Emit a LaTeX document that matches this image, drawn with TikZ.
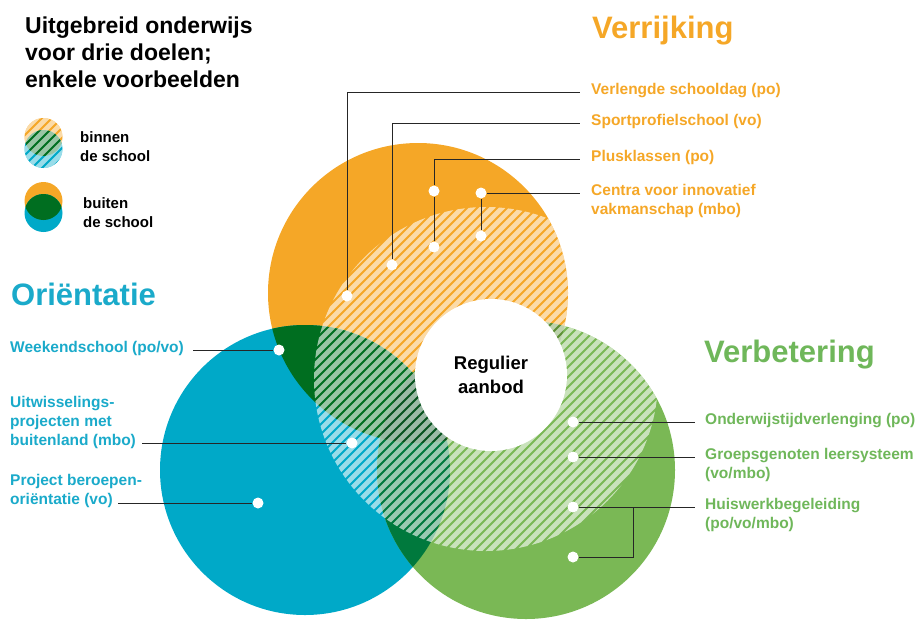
\documentclass[tikz,border=0pt]{standalone}
\usepackage{fontspec}
\setmainfont{Liberation Sans}
\definecolor{oranje}{HTML}{F5A727}
\definecolor{blauw}{HTML}{00A9C8}
\definecolor{groen}{HTML}{7AB855}
\definecolor{donkergroen}{HTML}{006E20}
\definecolor{zeegroen}{HTML}{00793D}
\definecolor{olijfgroen}{HTML}{5C8F33}
\definecolor{diepgroen}{HTML}{07531E}
\definecolor{tekstblauw}{HTML}{1AAACA}
\definecolor{tekstgroen}{HTML}{6FB75A}

\begin{document}
\begin{tikzpicture}[x=1pt,y=-1pt,
  punt/.style={shape=circle,fill=white,inner sep=0pt,minimum size=11pt},
  lijn/.style={draw=black!85,line width=1pt},
  streep/.style={draw=white,opacity=0.6,line width=4.7pt},
  kop/.style={anchor=base west,inner sep=0pt,font=\bfseries\fontsize{31}{36}\selectfont},
  vb/.style={anchor=north west,inner sep=0pt,align=left,font=\bfseries\fontsize{15.5}{19}\selectfont},
  vbO/.style={vb,text=oranje},
  vbB/.style={vb,text=tekstblauw},
  vbG/.style={vb,text=tekstgroen},
  legenda/.style={anchor=north west,inner sep=0pt,align=left,font=\bfseries\fontsize{15}{19}\selectfont}]
\def\rO{150pt}
\def\rB{145pt}
\def\rG{149pt}
\def\rL{19pt}

\useasboundingbox (0,0) rectangle (920,619);

\coordinate (O) at (418,293);
\coordinate (B) at (305,470);
\coordinate (G) at (526,470);
\coordinate (H) at (486,379);

\fill[oranje] (O) circle (\rO);
\fill[blauw] (B) circle (\rB);
\fill[groen] (G) circle (\rG);
\begin{scope}
\clip (B) circle (\rB);
\fill[zeegroen] (G) circle (\rG);
\end{scope}
\begin{scope}
\clip (O) circle (\rO);
\fill[donkergroen] (B) circle (\rB);
\fill[olijfgroen] (G) circle (\rG);
\clip (B) circle (\rB);
\fill[diepgroen] (G) circle (\rG);
\end{scope}

\begin{scope}
\clip (H) circle (172pt);
\clip (O) circle (\rO) (B) circle (\rB) (G) circle (\rG);
\foreach \k in {-8,...,68}
  \draw[streep] (\k*10,570) -- ++(380,-380);
\end{scope}

\node[shape=circle,fill=white,minimum size=152pt,inner sep=0pt,align=center,font=\bfseries\fontsize{18.5}{24}\selectfont] (ra) at (491,375) {Regulier\\aanbod};

% legenda
\coordinate (L1) at (43.5,137);
\coordinate (L2) at (43.5,149);
\coordinate (L3) at (43.5,201);
\coordinate (L4) at (43.5,213);
\fill[oranje] (L1) circle (\rL);
\fill[blauw] (L2) circle (\rL);
\fill[oranje] (L3) circle (\rL);
\fill[blauw] (L4) circle (\rL);
\begin{scope}
\clip (L1) circle (\rL);
\fill[donkergroen] (L2) circle (\rL);
\end{scope}
\begin{scope}
\clip (L3) circle (\rL);
\fill[donkergroen] (L4) circle (\rL);
\end{scope}
\begin{scope}
\clip (L1) circle (\rL) (L2) circle (\rL);
\foreach \k in {-5,...,7}
  \draw[streep] (\k*10,175) -- ++(60,-60);
\end{scope}

\node[anchor=north west,inner sep=0pt,align=left,font=\bfseries\fontsize{23}{27}\selectfont] (titel) at (25,16.5) {Uitgebreid onderwijs\\voor drie doelen;\\enkele voorbeelden};
\node[legenda] (binnen) at (80,131.5) {binnen\\de school};
\node[legenda] (buiten) at (83,197.5) {buiten\\de school};

\node[kop,text=oranje] (verrijking) at (592,38) {Verrijking};
\node[kop,text=tekstblauw] (orientatie) at (11,305) {Oriëntatie};
\node[kop,text=tekstgroen] (verbetering) at (704,362) {Verbetering};

\node[punt] (dv1) at (347,296) {};
\node[punt] (dv2) at (392,265) {};
\node[punt] (dv3) at (434,191) {};
\node[punt] (dv4) at (434,247) {};
\node[punt] (dv5) at (481,193) {};
\node[punt] (dv6) at (481,236) {};

\node[punt] (do1) at (279,350) {};
\node[punt] (do2) at (352,443) {};
\node[punt] (do3) at (258,503) {};

\node[punt] (dg1) at (573,422) {};
\node[punt] (dg2) at (573,457) {};
\node[punt] (dg3) at (573,507) {};
\node[punt] (dg4) at (573,557) {};

\node[vbO] (lv1) at (591,83) {Verlengde schooldag (po)};
\node[vbO] (lv2) at (591,114) {Sportprofielschool (vo)};
\node[vbO] (lv3) at (591,150) {Plusklassen (po)};
\node[vbO] (lv4) at (591,184) {Centra voor innovatief\\vakmanschap (mbo)};

\node[vbB] (lo1) at (10,341) {Weekendschool (po/vo)};
\node[vbB] (lo2) at (10,396) {Uitwisselings-\\projecten met\\buitenland (mbo)};
\node[vbB] (lo3) at (10,474.5) {Project beroepen-\\oriëntatie (vo)};

\node[vbG] (lg1) at (705,413) {Onderwijstijdverlenging (po)};
\node[vbG] (lg2) at (705,448) {Groepsgenoten leersysteem\\(vo/mbo)};
\node[vbG] (lg3) at (705,498) {Huiswerkbegeleiding\\(po/vo/mbo)};

\draw[lijn] (dv1) |- ([xshift=-11pt,yshift=-9pt]lv1.north west);
\draw[lijn] (dv2) |- ([xshift=-11pt,yshift=-9pt]lv2.north west);
\draw[lijn] (dv4) -- (dv3);
\draw[lijn] (dv3) |- ([xshift=-11pt,yshift=-9pt]lv3.north west);
\draw[lijn] (dv6) -- (dv5);
\draw[lijn] (dv5) -- ([xshift=-11pt,yshift=-9pt]lv4.north west);

\coordinate (lo3eind) at (118,503);
\draw[lijn] ([xshift=9pt,yshift=-9pt]lo1.north east) -- (do1);
\draw[lijn] ([xshift=6pt]lo2.east |- do2) -- (do2);
\draw[lijn] (lo3eind) -- (do3);

\coordinate (hk) at (633,507);
\draw[lijn] (dg1) -- ([xshift=-10pt,yshift=-9pt]lg1.north west);
\draw[lijn] (dg2) -- ([xshift=-10pt,yshift=-9pt]lg2.north west);
\draw[lijn] (dg3) -- ([xshift=-10pt,yshift=-9pt]lg3.north west);
\draw[lijn] (dg4) -| (hk);
\end{tikzpicture}
\end{document}
